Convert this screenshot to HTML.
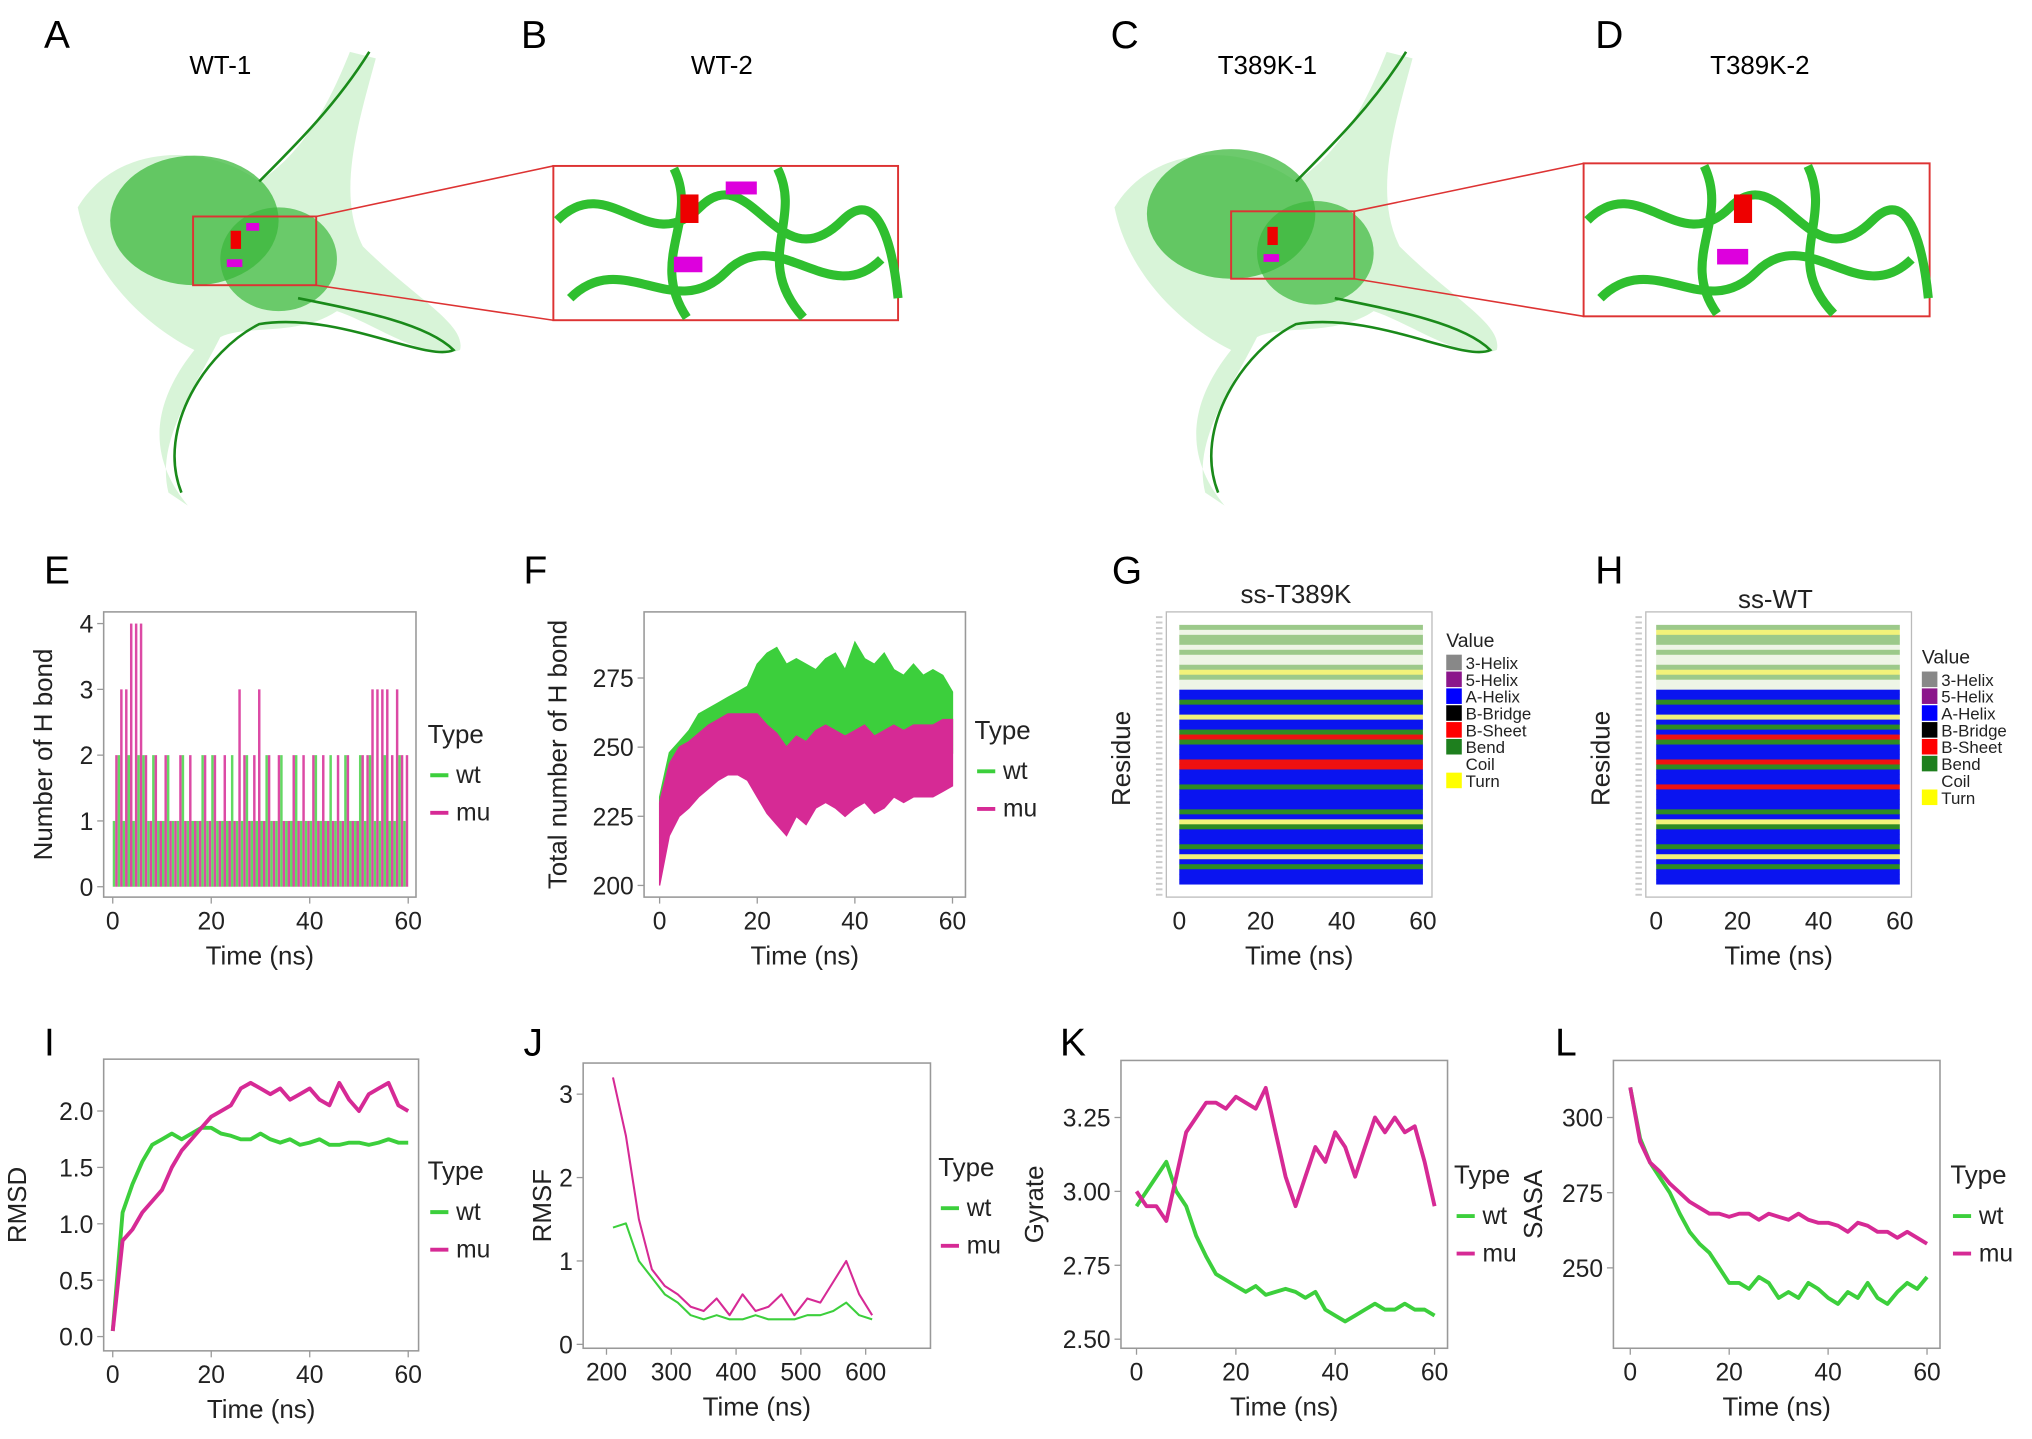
<!DOCTYPE html>
<html><head><meta charset="utf-8"><style>
html,body{margin:0;padding:0;background:#fff;}
svg{display:block;font-family:"Liberation Sans",Arial,sans-serif;}
</style></head><body>
<svg id="fig" width="2032" height="1439" viewBox="0 0 1568 1110" preserveAspectRatio="none" xmlns="http://www.w3.org/2000/svg">
<rect width="1568" height="1110" fill="#fff"/>
<g id="proteins">
  <g>
    <path d="M60,160 C90,110 160,110 200,140 C230,120 250,90 270,40 L290,45 C275,100 260,150 280,190 C320,230 360,250 355,270 C330,280 290,250 260,240 C230,260 190,250 170,260 C150,300 120,340 130,380 L145,390 C120,360 110,320 150,270 C110,250 70,210 60,160Z" fill="#8fe08f" opacity="0.35"/>
    <ellipse cx="150" cy="170" rx="65" ry="50" fill="#3cb83c" opacity="0.75"/>
    <ellipse cx="215" cy="200" rx="45" ry="40" fill="#3cb83c" opacity="0.7"/>
    <path d="M200,140 C230,110 260,80 285,40 M230,230 C280,240 330,250 350,270 C330,280 260,240 200,250 C160,270 120,330 140,380" fill="none" stroke="#1a8a1a" stroke-width="2"/>
    <rect x="149" y="167" width="95" height="53" fill="none" stroke="#d33" stroke-width="1.5"/>
    <path d="M244,167 L427,128 M244,220 L427,247" stroke="#d33" stroke-width="1.2"/>
    <rect x="178" y="178" width="8" height="14" fill="#e00"/><rect x="190" y="172" width="10" height="6" fill="#d0d"/><rect x="175" y="200" width="12" height="6" fill="#d0d"/>
  </g>
  <g>
    <rect x="427" y="128" width="266" height="119" fill="#fff" stroke="#d33" stroke-width="1.5"/>
    <path d="M430,170 C470,130 500,200 540,160 C580,120 600,220 650,170 C680,140 690,200 693,230 M440,230 C480,190 520,250 560,210 C600,170 640,240 680,200 M520,130 C540,170 500,200 530,245 M600,130 C620,170 580,200 620,245" fill="none" stroke="#2fbf2f" stroke-width="7"/>
    <rect x="525" y="150" width="14" height="22" fill="#e00"/><rect x="560" y="140" width="24" height="10" fill="#d0d"/><rect x="520" y="198" width="22" height="12" fill="#d0d"/>
  </g>
  <g>
    <path d="M860,160 C890,110 960,110 1000,140 C1030,120 1050,90 1070,40 L1090,45 C1075,100 1060,150 1080,190 C1120,230 1160,250 1155,270 C1130,280 1090,250 1060,240 C1030,260 990,250 970,260 C950,300 920,340 930,380 L945,390 C920,360 910,320 950,270 C910,250 870,210 860,160Z" fill="#8fe08f" opacity="0.35"/>
    <ellipse cx="950" cy="165" rx="65" ry="50" fill="#3cb83c" opacity="0.75"/>
    <ellipse cx="1015" cy="195" rx="45" ry="40" fill="#3cb83c" opacity="0.7"/>
    <path d="M1000,140 C1030,110 1060,80 1085,40 M1030,230 C1080,240 1130,250 1150,270 C1130,280 1060,240 1000,250 C960,270 920,330 940,380" fill="none" stroke="#1a8a1a" stroke-width="2"/>
    <rect x="950" y="163" width="95" height="52" fill="none" stroke="#d33" stroke-width="1.5"/>
    <path d="M1045,163 L1222,126 M1045,215 L1222,244" stroke="#d33" stroke-width="1.2"/>
    <rect x="978" y="175" width="8" height="14" fill="#e00"/><rect x="975" y="196" width="12" height="6" fill="#d0d"/>
  </g>
  <g>
    <rect x="1222" y="126" width="267" height="118" fill="#fff" stroke="#d33" stroke-width="1.5"/>
    <path d="M1225,170 C1265,130 1295,200 1335,160 C1375,120 1395,220 1445,170 C1475,140 1485,200 1488,230 M1235,230 C1275,190 1315,250 1355,210 C1395,170 1435,240 1475,200 M1315,128 C1335,170 1295,200 1325,242 M1395,128 C1415,170 1375,200 1415,242" fill="none" stroke="#2fbf2f" stroke-width="7"/>
    <rect x="1338" y="150" width="14" height="22" fill="#e00"/><rect x="1325" y="192" width="24" height="12" fill="#d0d"/>
  </g>
</g>
<g font-size="30" fill="#000">
<text x="34" y="37">A</text>
<text x="402" y="37">B</text>
<text x="857" y="37">C</text>
<text x="1231" y="37">D</text>
<text x="34" y="450">E</text>
<text x="404" y="450">F</text>
<text x="858" y="450">G</text>
<text x="1231" y="450">H</text>
<text x="34" y="814">I</text>
<text x="404" y="814">J</text>
<text x="818" y="814">K</text>
<text x="1200" y="814">L</text>
</g>
<g font-size="20" text-anchor="middle">
<text x="170" y="57">WT-1</text>
<text x="557" y="57">WT-2</text>
<text x="978" y="57">T389K-1</text>
<text x="1358" y="57">T389K-2</text>
</g>
<g id="charts"></g>
</svg>
<script>
// ---------- DATA ----------
const eTimes = [0,1,2,3,4,5,6,7,8,9,10,11,12,13,14,15,16,17,18,19,20,21,22,23,24,25,26,27,28,29,30,31,32,33,34,35,36,37,38,39,40,41,42,43,44,45,46,47,48,49,50,51,52,53,54,55,56,57,58,59];
const eWt = [1,2,1,2,1,2,2,1,2,1,1,2,1,1,2,1,1,1,2,1,2,1,1,1,2,1,1,2,1,1,1,2,1,1,2,1,1,2,1,1,1,2,1,1,2,1,1,2,1,1,2,1,2,1,1,2,1,1,2,1];
const eMu = [2,3,3,4,4,4,2,1,2,1,2,1,1,2,1,2,1,1,2,1,2,1,2,1,1,3,2,1,2,3,1,2,1,2,1,1,2,1,2,1,2,1,2,1,1,2,1,2,1,1,2,2,3,3,3,3,2,3,2,2];

const fTimes = [0,2,4,6,8,10,12,14,16,18,20,22,24,26,28,30,32,34,36,38,40,42,44,46,48,50,52,54,56,58,60];
const fWtHi = [232,248,252,256,262,264,266,268,270,272,280,284,286,280,282,280,278,282,284,278,288,282,280,284,278,276,280,276,278,276,270];
const fWtLo = [215,225,230,235,238,240,244,246,248,245,250,252,254,250,252,250,248,252,254,250,256,252,250,254,250,248,250,248,250,250,248];
const fMuHi = [230,244,250,252,255,258,260,262,262,262,262,258,255,250,254,252,256,258,256,254,256,258,254,256,258,256,258,258,258,260,260];
const fMuLo = [200,218,225,228,232,235,238,240,240,238,232,226,222,218,225,222,228,230,228,225,228,230,226,228,232,230,232,232,232,234,236];

const ssRowsT389K = ['g','W','g','g','W','g','W','W','g','Y','g','W','W','B','B','G','B','B','Y','B','B','G','R','G','B','B','B','R','R','B','B','B','G','B','B','B','B','G','B','Y','G','B','B','B','G','B','Y','B','G','B','B','B'];
const ssRowsWT = ['g','Y','g','g','W','g','W','W','g','Y','g','W','W','B','B','G','B','B','Y','B','G','B','R','G','B','B','B','R','G','B','B','B','R','B','B','B','B','G','B','Y','G','B','B','B','G','B','Y','B','G','B','B','B'];
const ssLegend = ['3-Helix','5-Helix','A-Helix','B-Bridge','B-Sheet','Bend','Coil','Turn'];

const tTimes = [0,2,4,6,8,10,12,14,16,18,20,22,24,26,28,30,32,34,36,38,40,42,44,46,48,50,52,54,56,58,60];
const iWt = [0.05,1.1,1.35,1.55,1.7,1.75,1.8,1.75,1.8,1.85,1.85,1.8,1.78,1.75,1.75,1.8,1.75,1.72,1.75,1.7,1.72,1.75,1.7,1.7,1.72,1.72,1.7,1.72,1.75,1.72,1.72];
const iMu = [0.05,0.85,0.95,1.1,1.2,1.3,1.5,1.65,1.75,1.85,1.95,2.0,2.05,2.2,2.25,2.2,2.15,2.2,2.1,2.15,2.2,2.1,2.05,2.25,2.1,2.0,2.15,2.2,2.25,2.05,2.0];

const jRes = [210,230,250,270,290,310,330,350,370,390,410,430,450,470,490,510,530,550,570,590,610];
const jWt = [1.4,1.45,1.0,0.8,0.6,0.5,0.35,0.3,0.35,0.3,0.3,0.35,0.3,0.3,0.3,0.35,0.35,0.4,0.5,0.35,0.3];
const jMu = [3.2,2.5,1.5,0.9,0.7,0.6,0.45,0.4,0.55,0.35,0.6,0.4,0.45,0.6,0.35,0.55,0.5,0.75,1.0,0.6,0.35];

const kWt = [2.95,3.0,3.05,3.1,3.0,2.95,2.85,2.78,2.72,2.7,2.68,2.66,2.68,2.65,2.66,2.67,2.66,2.64,2.66,2.6,2.58,2.56,2.58,2.6,2.62,2.6,2.6,2.62,2.6,2.6,2.58];
const kMu = [3.0,2.95,2.95,2.9,3.05,3.2,3.25,3.3,3.3,3.28,3.32,3.3,3.28,3.35,3.2,3.05,2.95,3.05,3.15,3.1,3.2,3.15,3.05,3.15,3.25,3.2,3.25,3.2,3.22,3.1,2.95];

const lWt = [310,293,285,280,275,268,262,258,255,250,245,245,243,247,245,240,242,240,245,243,240,238,242,240,245,240,238,242,245,243,247];
const lMu = [310,292,285,282,278,275,272,270,268,268,267,268,268,266,268,267,266,268,266,265,265,264,262,265,264,262,262,260,262,260,258];

const timeTicks = [0,20,40,60];
// ---------- DRAW ----------
const NS='http://www.w3.org/2000/svg';
const root=document.getElementById('charts');
const GREEN='#3ccf3c', PINK='#d62a95';
function mk(tag,attrs,parent){const e=document.createElementNS(NS,tag);for(const k in attrs)e.setAttribute(k,attrs[k]);(parent||root).appendChild(e);return e;}
function lin(d0,d1,r0,r1){return v=>r0+(v-d0)*(r1-r0)/(d1-d0);}
function txt(x,y,s,size,anchor,parent,rot){const t=mk('text',{x:x,y:y,'font-size':size,'text-anchor':anchor||'middle',fill:'#222'},parent);if(rot)t.setAttribute('transform','rotate(-90 '+x+' '+y+')');t.textContent=s;return t;}
function axes(g,box,xs,ys,xt,yt,yfmt,xlabel,ylabel,ylx){
  const fr=mk('rect',{x:box[0],y:box[1],width:box[2]-box[0],height:box[3]-box[1],fill:'none',stroke:'#999','stroke-width':1.2},g);
  
  
  xt.forEach(v=>{const x=xs(v);mk('line',{x1:x,x2:x,y1:box[3],y2:box[3]+5,stroke:'#999'},g);
    const t=txt(x,box[3]+25,String(v),19,'middle',g);
    
    });
  yt.forEach(v=>{const y=ys(v);mk('line',{x1:box[0]-5,x2:box[0],y1:y,y2:y,stroke:'#999'},g);
    const t=txt(box[0]-8,y+7,yfmt?yfmt(v):String(v),19,'end',g);
    
    });
  const xl=txt((box[0]+box[2])/2,box[3]+52,xlabel,20,'middle',g);
  
  
  const yl=txt(ylx,(box[1]+box[3])/2,ylabel,20,'middle',g,true);
  
  
}
function legend(g,x,y){
  const t=txt(x,y,'Type',20,'start',g);
  
  
  [['wt',GREEN],['mu',PINK]].forEach((e,i)=>{
    const yy=y+31+i*29;
    const ln=mk('line',{x1:x+2,x2:x+16,y1:yy-6,y2:yy-6,stroke:e[1],'stroke-width':3},g);
    
    
    const tt=txt(x+22,yy,e[0],19,'start',g);
    
    
  });
}
function line(g,xsArr,ysArr,xs,ys,color,name,w){
  const d=xsArr.map((v,i)=>(i?'L':'M')+xs(v).toFixed(1)+','+ys(ysArr[i]).toFixed(1)).join(' ');
  const p=mk('path',{d:d,fill:'none',stroke:color,'stroke-width':w||3,'stroke-linejoin':'round'},g);
  
  
}
function band(g,xsArr,hi,lo,xs,ys,color,name){
  let d=xsArr.map((v,i)=>(i?'L':'M')+xs(v).toFixed(1)+','+ys(hi[i]).toFixed(1)).join(' ');
  for(let i=xsArr.length-1;i>=0;i--)d+=' L'+xs(xsArr[i]).toFixed(1)+','+ys(lo[i]).toFixed(1);
  const p=mk('path',{d:d+'Z',fill:color,stroke:color,'stroke-width':1},g);
  
  
}
function group(name){const g=mk('g',{});return g;}

// E
(function(){
  const g=group('chart-e-hbond-count');const box=[80,472,321,692];
  const xs=lin(0,60,87,315), ys=lin(0,4,684,481);
  eTimes.forEach((t,i)=>{
    const bw=xs(0.5)-xs(0);
    const b1=mk('rect',{x:xs(t),y:ys(eWt[i]),width:bw,height:ys(0)-ys(eWt[i]),fill:GREEN,opacity:0.8},g);
    
    
    const b2=mk('rect',{x:xs(t+0.5),y:ys(eMu[i]),width:bw,height:ys(0)-ys(eMu[i]),fill:PINK,opacity:0.85},g);
    
    
  });
  axes(g,box,xs,ys,timeTicks,[0,1,2,3,4],null,'Time (ns)','Number of H bond',40);
  legend(g,330,573);
})();
// F
(function(){
  const g=group('chart-f-total-hbond');const box=[497,472,745,692];
  const xs=lin(0,60,509,735), ys=lin(200,275,683,523);
  band(g,fTimes,fWtHi,fWtLo,xs,ys,GREEN,'series-wt');
  band(g,fTimes,fMuHi,fMuLo,xs,ys,PINK,'series-mu');
  axes(g,box,xs,ys,timeTicks,[200,225,250,275],null,'Time (ns)','Total number of H bond',437);
  legend(g,752,570);
})();
// G/H heatmaps
const SSCOL={B:'#0a14f0',G:'#2e8b22',g:'#9cc98a',R:'#ee1111',Y:'#f2f27a',W:'#eef5e6'};
const SSLEG=['#888','#8b168b','#0000ff','#000','#ff0000','#1e7f1e','#fff','#ffff00'];
function heat(name,rows,box,inner,title,titleX,titleY,legX,legY){
  const g=group(name);
  const xs=lin(0,60,inner[0],inner[2]);
  const rh=(inner[3]-inner[1])/rows.length;
  rows.forEach((c,i)=>{
    const r=mk('rect',{x:xs(0),y:inner[1]+i*rh,width:xs(60)-xs(0),height:rh+0.3,fill:SSCOL[c]},g);
    
    
  });
  const fr=mk('rect',{x:box[0],y:box[1],width:box[2]-box[0],height:box[3]-box[1],fill:'none',stroke:'#bbb'},g);
  
  
  for(let y=box[1]+4;y<box[3];y+=4.2)mk('line',{x1:box[0]-8,x2:box[0]-3,y1:y,y2:y,stroke:'#ccc','stroke-width':1.5},g);
  timeTicks.forEach(v=>{const t=txt(xs(v),box[3]+25,String(v),19,'middle',g);
    
    });
  const xl=txt((box[0]+box[2])/2,box[3]+52,'Time (ns)',20,'middle',g);
  
  
  const yl=txt(box[0]-28,585,'Residue',20,'middle',g,true);
  
  
  const tt=txt(titleX,titleY,title,20,'middle',g);
  
  
  const lt=txt(legX,legY,'Value',15,'start',g);
  
  
  ssLegend.forEach((s,i)=>{
    const y=legY+6+i*13;
    const sw=mk('rect',{x:legX,y:y,width:12,height:12,fill:SSLEG[i]},g);
    
    
    const t=txt(legX+15,y+11,s,13,'start',g);
    
    
  });
}
heat('chart-g-ss-t389k',ssRowsT389K,[900,472,1105,692],[910,482,1098,682],'ss-T389K',1000,465,1116,499);
heat('chart-h-ss-wt',ssRowsWT,[1270,472,1475,692],[1278,482,1466,682],'ss-WT',1370,469,1483,512);
// I
(function(){
  const g=group('chart-i-rmsd');const box=[80,817,323,1042];
  const xs=lin(0,60,87,315), ys=lin(0,2,1031,857);
  line(g,tTimes,iWt,xs,ys,GREEN,'series-wt');
  line(g,tTimes,iMu,xs,ys,PINK,'series-mu');
  axes(g,box,xs,ys,timeTicks,[0,0.5,1,1.5,2],v=>v.toFixed(1),'Time (ns)','RMSD',20);
  legend(g,330,910);
})();
// J
(function(){
  const g=group('chart-j-rmsf');const box=[450,820,718,1040];
  const xs=lin(200,600,468,668), ys=lin(0,3,1037,844);
  line(g,jRes,jWt,xs,ys,GREEN,'series-wt',1.6);
  line(g,jRes,jMu,xs,ys,PINK,'series-mu',1.6);
  axes(g,box,xs,ys,[200,300,400,500,600],[0,1,2,3],null,'Time (ns)','RMSF',425);
  legend(g,724,907);
})();
// K
(function(){
  const g=group('chart-k-gyrate');const box=[865,818,1117,1040];
  const xs=lin(0,60,877,1107), ys=lin(2.5,3.25,1033,862);
  line(g,tTimes,kWt,xs,ys,GREEN,'series-wt');
  line(g,tTimes,kMu,xs,ys,PINK,'series-mu');
  axes(g,box,xs,ys,timeTicks,[2.5,2.75,3,3.25],v=>v.toFixed(2),'Time (ns)','Gyrate',805);
  legend(g,1122,913);
})();
// L
(function(){
  const g=group('chart-l-sasa');const box=[1245,818,1497,1040];
  const xs=lin(0,60,1258,1487), ys=lin(250,300,978,862);
  line(g,tTimes,lWt,xs,ys,GREEN,'series-wt');
  line(g,tTimes,lMu,xs,ys,PINK,'series-mu');
  axes(g,box,xs,ys,timeTicks,[250,275,300],null,'Time (ns)','SASA',1190);
  legend(g,1505,913);
})();
</script>
</body></html>
